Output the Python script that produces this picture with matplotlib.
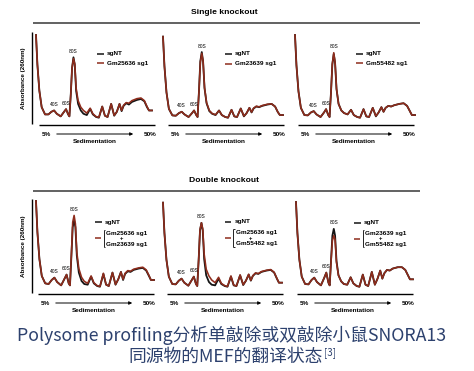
import matplotlib
matplotlib.use("Agg")
import matplotlib.pyplot as plt
from matplotlib.patches import FancyArrowPatch
from matplotlib.lines import Line2D

W, H = 474, 371

# posicoes ao longo do gradiente (0 = 5%, 100 = 50%)
sed_pos = [0, 1.2, 2.9, 4.9, 7.8, 10.7, 13.3, 15.6, 17.9, 21.3, 24.2, 25.9, 27.7, 28.8,
           30.0, 31.1, 32.3, 33.4, 34.6, 36.3, 38.6, 40.9, 43.8, 46.7, 49.0, 51.9, 54.2,
           57.1, 59.4, 61.7, 64.8, 67.4, 69.7, 72.0, 73.8, 75.5, 77.8, 80.1, 82.7, 87.0,
           90.5, 93.4, 95.7, 97.4, 100]

# absorbancia (unidades arbitrarias) - single knockout
p1_nt = [280, 190, 110, 60, 38, 38, 46, 50, 40, 32, 46, 54, 38, 32, 100, 180, 212, 190, 110, 70, 50, 40, 36,
         55, 38, 30, 28, 62, 34, 30, 70, 34, 46, 70, 48, 64, 72, 68, 76, 82, 85, 78, 60, 50, 50]
p1_ko = [280, 190, 110, 60, 38, 38, 46, 50, 40, 32, 46, 54, 38, 32, 100, 180, 208, 192, 118, 80, 60, 50, 42,
         57, 40, 31, 29, 62, 34, 30, 70, 35, 46, 70, 50, 66, 74, 72, 80, 86, 88, 80, 62, 50, 50]
p2_nt = [275, 185, 105, 55, 35, 34, 42, 46, 38, 30, 42, 50, 36, 30, 110, 200, 228, 200, 118, 72, 48, 40, 36,
         50, 36, 30, 28, 52, 32, 30, 56, 32, 42, 58, 44, 56, 62, 60, 64, 68, 70, 62, 45, 36, 36]
p2_ko = [275, 185, 105, 55, 35, 34, 42, 46, 38, 30, 42, 50, 36, 30, 110, 196, 224, 200, 120, 74, 50, 41, 37,
         50, 36, 30, 28, 52, 32, 30, 56, 33, 42, 58, 45, 57, 63, 61, 65, 69, 70, 62, 45, 36, 36]
p3_nt = [280, 188, 108, 58, 36, 35, 44, 48, 38, 30, 44, 54, 36, 30, 105, 190, 222, 195, 115, 70, 50, 42, 38,
         52, 36, 30, 28, 54, 32, 30, 58, 32, 44, 60, 46, 58, 64, 62, 66, 70, 72, 64, 48, 36, 36]
p3_ko = [280, 188, 108, 58, 36, 35, 44, 48, 38, 30, 44, 54, 36, 30, 105, 192, 226, 196, 116, 70, 50, 42, 38,
         52, 36, 30, 28, 54, 32, 30, 58, 33, 44, 60, 46, 58, 64, 62, 66, 70, 72, 64, 48, 36, 36]

# double knockout
p4_nt = [283, 190, 110, 60, 38, 36, 48, 55, 42, 32, 52, 64, 38, 32, 120, 205, 225, 205, 120, 70, 45, 36, 34,
         58, 38, 30, 28, 66, 34, 30, 70, 34, 50, 72, 48, 66, 74, 72, 78, 82, 84, 76, 60, 48, 48]
p4_ko = [283, 190, 110, 60, 38, 36, 48, 55, 42, 32, 52, 64, 38, 32, 125, 220, 240, 215, 130, 82, 56, 44, 38,
         60, 40, 31, 29, 68, 34, 30, 70, 35, 50, 72, 50, 68, 76, 74, 80, 84, 86, 78, 62, 48, 48]
p5_nt = [278, 188, 108, 58, 36, 35, 46, 52, 40, 31, 48, 58, 36, 30, 110, 195, 218, 195, 110, 62, 42, 34, 32,
         52, 36, 30, 28, 58, 32, 30, 62, 33, 46, 64, 46, 60, 68, 66, 72, 76, 78, 70, 52, 40, 40]
p5_ko = [278, 188, 108, 58, 36, 35, 46, 52, 40, 31, 48, 58, 36, 30, 112, 198, 218, 200, 125, 80, 60, 48, 40,
         56, 38, 31, 29, 60, 33, 30, 63, 34, 46, 65, 47, 61, 69, 67, 73, 77, 79, 71, 53, 40, 40]
p6_nt = [280, 188, 108, 58, 36, 35, 48, 55, 42, 32, 55, 70, 40, 32, 110, 180, 200, 180, 105, 62, 44, 36, 34,
         56, 38, 30, 28, 64, 34, 30, 72, 34, 52, 76, 52, 68, 78, 76, 82, 86, 86, 78, 62, 50, 50]
p6_ko = [280, 188, 108, 58, 36, 35, 48, 55, 42, 32, 55, 70, 40, 32, 105, 165, 180, 168, 100, 62, 44, 36, 34,
         56, 38, 30, 28, 64, 34, 30, 72, 34, 52, 76, 52, 68, 78, 76, 82, 86, 86, 78, 62, 50, 50]

peak_names = ["40S", "60S", "80S"]
peak_idx = [7, 11, 16]

single_labels = [["Gm25636 sg1"], ["Gm23639 sg1"], ["Gm55482 sg1"]]
double_labels = [["Gm25636 sg1", "Gm23639 sg1"], ["Gm25636 sg1", "Gm55482 sg1"],
                 ["Gm23639 sg1", "Gm55482 sg1"]]

COR_NT = "#141414"
COR_KO = "#8e2c1c"
COR_LEG = "#2d416e"
FONTE = "Liberation Sans"


def fx(px):
    return px / W


def fy(py):
    return 1 - py / H


def linha(fig, x0, y0, x1, y1, cor="black", lw=0.9):
    fig.add_artist(Line2D([fx(x0), fx(x1)], [fy(y0), fy(y1)], transform=fig.transFigure,
                          color=cor, lw=lw, solid_capstyle="butt"))


def texto(fig, x, y, s, size=4.6, ha="left", **kw):
    fig.text(fx(x), fy(y), s, fontsize=size, ha=ha, va="center", family=FONTE,
             fontweight="bold", **kw)


fig = plt.figure(figsize=(W / 100, H / 100), dpi=100)

linhas = [
    # titulo, y titulo, y regua, topo curva, base curva, y eixo x, paineis
    ("Single knockout", 13, 23, 31.7, 120.3, 125,
     [(36, 152, p1_nt, p1_ko, 39), (163, 283, p2_nt, p2_ko, 168), (295, 415, p3_nt, p3_ko, 298)],
     single_labels, [(97, 53.5), (225, 54), (356, 53.5)]),
    ("Double knockout", 181, 191, 198.6, 289.4, 294,
     [(36, 154, p4_nt, p4_ko, 38), (163, 282, p5_nt, p5_ko, 167), (296, 413, p6_nt, p6_ko, 297)],
     double_labels, [(95, 222.3), (224.5, 222), (354, 222.7)]),
]

for titulo, yt, yr, ytop, ybot, yax, paineis, legendas, pos_leg in linhas:
    texto(fig, 224, yt, titulo, size=6.1, ha="center")
    linha(fig, 33, yr, 420, yr, cor="#555555", lw=1.3)
    # eixo y so no primeiro painel
    linha(fig, 32, ytop, 32, yax - 1.5, lw=1.0)
    fig.text(fx(23.5), fy((ytop + yax) / 2), "Absorbance (260nm)", fontsize=4.5, rotation=90,
             ha="center", va="center", family=FONTE, fontweight="bold")

    for (x0, x1, nt, ko, ax0), rotulos, (lx, ly) in zip(paineis, legendas, pos_leg):
        ax = fig.add_axes([fx(x0), fy(ybot), (x1 - x0) / W, (ybot - ytop) / H])
        ax.set_xlim(0, 100)
        ax.set_ylim(20, 290)
        ax.axis("off")
        ax.plot(sed_pos, nt, color=COR_NT, lw=1.3, clip_on=False, solid_joinstyle="round")
        ax.plot(sed_pos, ko, color=COR_KO, lw=1.15, clip_on=False, solid_joinstyle="round")
        for nome, i in zip(peak_names, peak_idx):
            ax.annotate(nome, (sed_pos[i], max(nt[i], ko[i])), xytext=(0, 2.5),
                        textcoords="offset points", ha="center", va="bottom",
                        fontsize=3.5, family=FONTE)

        # eixo x com seta de sedimentacao
        linha(fig, ax0, yax, ax0 + 116, yax, lw=1.0)
        texto(fig, ax0 + 7, yax + 9.5, "5%", ha="center")
        texto(fig, ax0 + 111, yax + 9.5, "50%", ha="center")
        fig.add_artist(FancyArrowPatch((fx(ax0 + 15), fy(yax + 9)), (fx(ax0 + 97), fy(yax + 9)),
                                       transform=fig.transFigure, arrowstyle="-|>",
                                       mutation_scale=4.5, lw=0.7, color="black"))
        texto(fig, ax0 + 56, yax + 16, "Sedimentation", ha="center")

        # legenda
        linha(fig, lx, ly, lx + 6.5, ly, cor=COR_NT, lw=1.1)
        texto(fig, lx + 10, ly, "sgNT")
        if len(rotulos) == 1:
            linha(fig, lx, ly + 9.5, lx + 6.5, ly + 9.5, cor=COR_KO, lw=1.1)
            texto(fig, lx + 10, ly + 9.5, rotulos[0])
        else:
            yb0, yb1 = ly + 7.5, ly + 24.5
            linha(fig, lx, ly + 16, lx + 6, ly + 16, cor=COR_KO, lw=1.1)
            linha(fig, lx + 8.5, yb0, lx + 8.5, yb1, lw=0.6)
            linha(fig, lx + 8.5, yb0, lx + 10, yb0, lw=0.6)
            linha(fig, lx + 8.5, yb1, lx + 10, yb1, lw=0.6)
            texto(fig, lx + 11, ly + 11, rotulos[0])
            texto(fig, lx + 26, ly + 16.3, "+", size=4.2, ha="center")
            texto(fig, lx + 11, ly + 22, rotulos[1])

# legenda da figura
legenda1 = "Polysome profiling分析单敲除或双敲除小鼠SNORA13"
legenda2 = "同源物的MEF的翻译状态"
fam = ["Noto Sans CJK SC", "DejaVu Sans"]
fig.text(fx(232), fy(335), legenda1, fontsize=12.8, ha="center", va="center",
         family=fam, color=COR_LEG)
t2 = fig.text(fx(226), fy(356.5), legenda2, fontsize=12.8, ha="center", va="center",
              family=fam, color=COR_LEG)
fig.canvas.draw()
bb = t2.get_window_extent()
fig.text(bb.x1 / W + fx(1), fy(353), "[3]", fontsize=7, ha="left", va="center",
         family=fam, color=COR_LEG)

fig.savefig("out.png", dpi=100)
